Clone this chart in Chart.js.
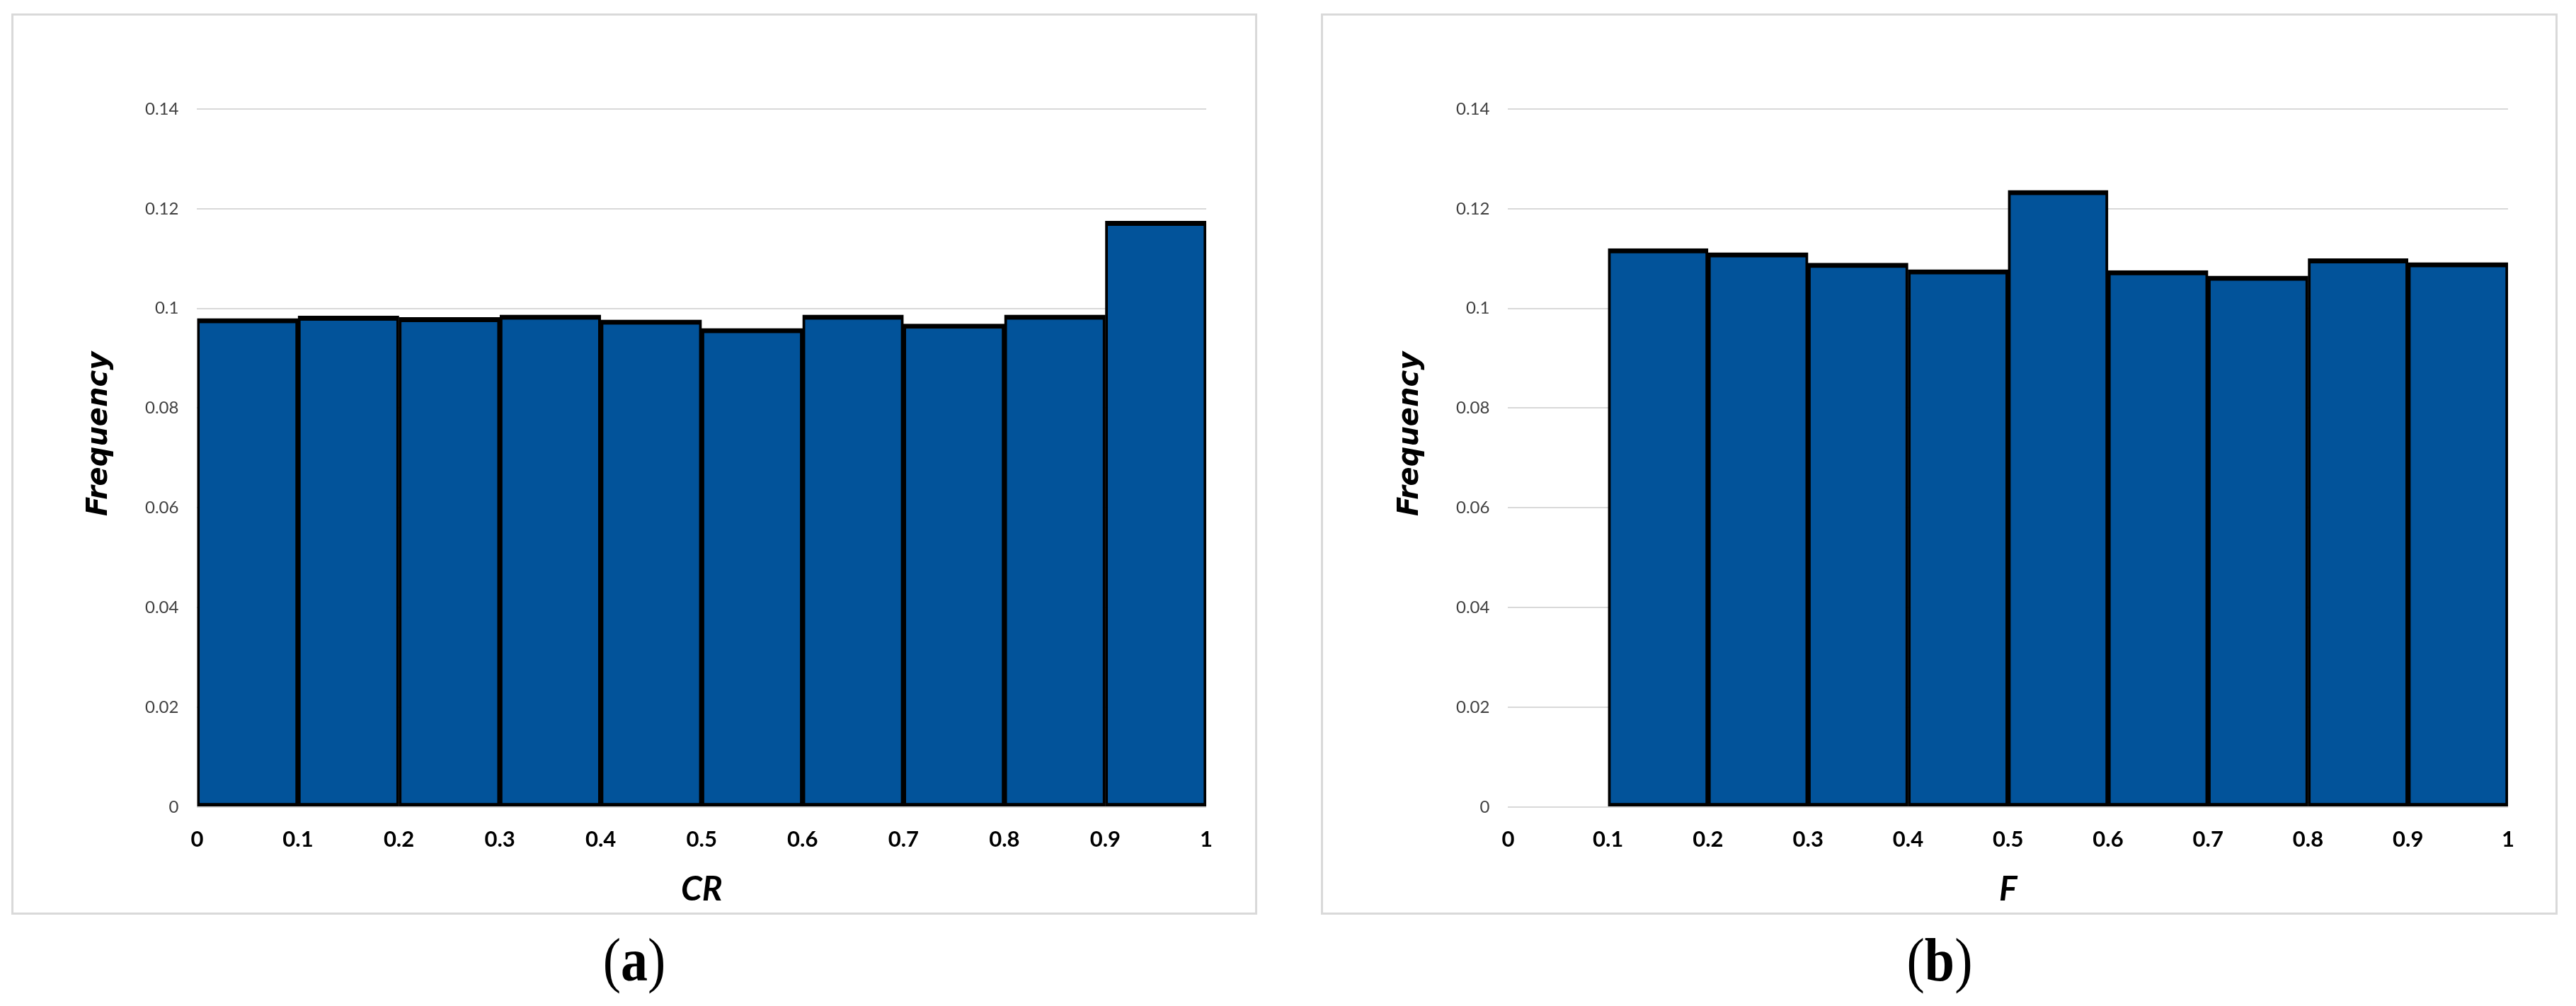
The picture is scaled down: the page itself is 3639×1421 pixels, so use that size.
<!DOCTYPE html>
<html>
<head>
<meta charset="utf-8">
<title>Frequency histograms of CR and F</title>
<script src="https://cdn.jsdelivr.net/npm/chart.js@4.4.1/dist/chart.umd.min.js"></script>
<style>
  html, body { margin: 0; padding: 0; background: #fff; }
  body { width: 3639px; height: 1421px; position: relative; overflow: hidden; }
  .frame { position: absolute; top: 19px; height: 1273px; box-sizing: border-box; border: 3px solid #d9d9d9; }
  .plot { position: absolute; top: 19px; height: 1273px; }
  .caption {
    position: absolute; top: 1310px; width: 200px; text-align: center;
    font-family: "Liberation Serif", "DejaVu Serif", serif; font-size: 76px; line-height: 90px;
    color: #000; transform: scaleY(1.15);
  }
</style>
</head>
<body>
<div class="frame" style="left:16px;width:1760px"></div>
<div class="plot" style="left:16px;width:1760px"><canvas id="chartCR"></canvas></div>
<div class="caption" style="left:796px">(<b>a</b>)</div>

<div class="frame" style="left:1866px;width:1747px"></div>
<div class="plot" style="left:1866px;width:1747px"><canvas id="chartF"></canvas></div>
<div class="caption" style="left:2640px">(<b>b</b>)</div>

<script>
// tick labels shared by both panels
const xTicks = [0, 0.1, 0.2, 0.3, 0.4, 0.5, 0.6, 0.7, 0.8, 0.9, 1];
const yTicks = [0, 0.02, 0.04, 0.06, 0.08, 0.1, 0.12, 0.14];

// (a) CR: bin centres and relative frequency
const crBins = [0.05, 0.15, 0.25, 0.35, 0.45, 0.55, 0.65, 0.75, 0.85, 0.95];
const crFreq = [0.0980, 0.0985, 0.0982, 0.0987, 0.0977, 0.0960, 0.0987, 0.0969, 0.0987, 0.1175];

// (b) F: no samples below 0.1
const fBins = [0.15, 0.25, 0.35, 0.45, 0.55, 0.65, 0.75, 0.85, 0.95];
const fFreq = [0.1120, 0.1112, 0.1091, 0.1078, 0.1237, 0.1076, 0.1065, 0.1100, 0.1092];

Chart.defaults.font.family = 'Lato';

// y title sits a bit above the middle of the axis in the original, so draw it ourselves
const yTitle = {
  id: 'yTitle',
  afterDraw(chart, args, opts) {
    const { ctx, chartArea, scales } = chart;
    ctx.save();
    ctx.translate(scales.y.left - opts.gap, (chartArea.top + chartArea.bottom) / 2 - opts.lift);
    ctx.rotate(-Math.PI / 2);
    ctx.font = opts.font;
    ctx.fillStyle = '#000';
    ctx.textAlign = 'center';
    ctx.textBaseline = 'middle';
    ctx.fillText(opts.text, 0, 0);
    ctx.restore();
  }
};

function histogram(canvasId, bins, freq, xTitle, pad) {
  return new Chart(document.getElementById(canvasId), {
    type: 'bar',
    data: {
      datasets: [{
        data: bins.map((b, i) => ({ x: b, y: freq[i] })),
        backgroundColor: '#02539a',
        borderColor: '#000',
        borderWidth: { top: 7, right: 4, bottom: 5, left: 4 },
        borderSkipped: false,
        barPercentage: 1,
        categoryPercentage: 1
      }]
    },
    plugins: [yTitle],
    options: {
      responsive: true,
      maintainAspectRatio: false,
      animation: false,
      layout: { padding: pad },
      plugins: {
        legend: { display: false },
        tooltip: { enabled: false },
        yTitle: {
          text: 'Frequency',
          font: 'italic bold 40px "DejaVu Sans"',
          gap: 38,
          lift: 34
        }
      },
      scales: {
        x: {
          type: 'linear',
          min: 0,
          max: 1,
          offset: false,
          grid: { display: false, offset: false, drawTicks: false },
          border: { display: false },
          afterBuildTicks: s => { s.ticks = xTicks.map(v => ({ value: v })); },
          ticks: {
            padding: 28,
            maxRotation: 0,
            autoSkip: false,
            color: '#000',
            font: { size: 31, weight: 'bold' },
            callback: v => String(v)
          },
          title: {
            display: true,
            text: xTitle,
            color: '#000',
            font: { size: 48, weight: 'bold', style: 'italic', lineHeight: 1 },
            padding: { top: 0, bottom: 0 }
          }
        },
        y: {
          min: 0,
          max: 0.14,
          grid: { color: '#d9d9d9', lineWidth: 2, drawTicks: false },
          border: { display: false },
          afterBuildTicks: s => { s.ticks = yTicks.map(v => ({ value: v })); },
          ticks: {
            padding: 26,
            color: '#404040',
            font: { size: 24 },
            callback: v => String(v)
          }
        }
      }
    }
  });
}

histogram('chartCR', crBins, crFreq, 'CR', { left: 163, top: 135, right: 72, bottom: 11 });
histogram('chartF', fBins, fFreq, 'F', { left: 165, top: 135, right: 70, bottom: 11 });
</script>
</body>
</html>
